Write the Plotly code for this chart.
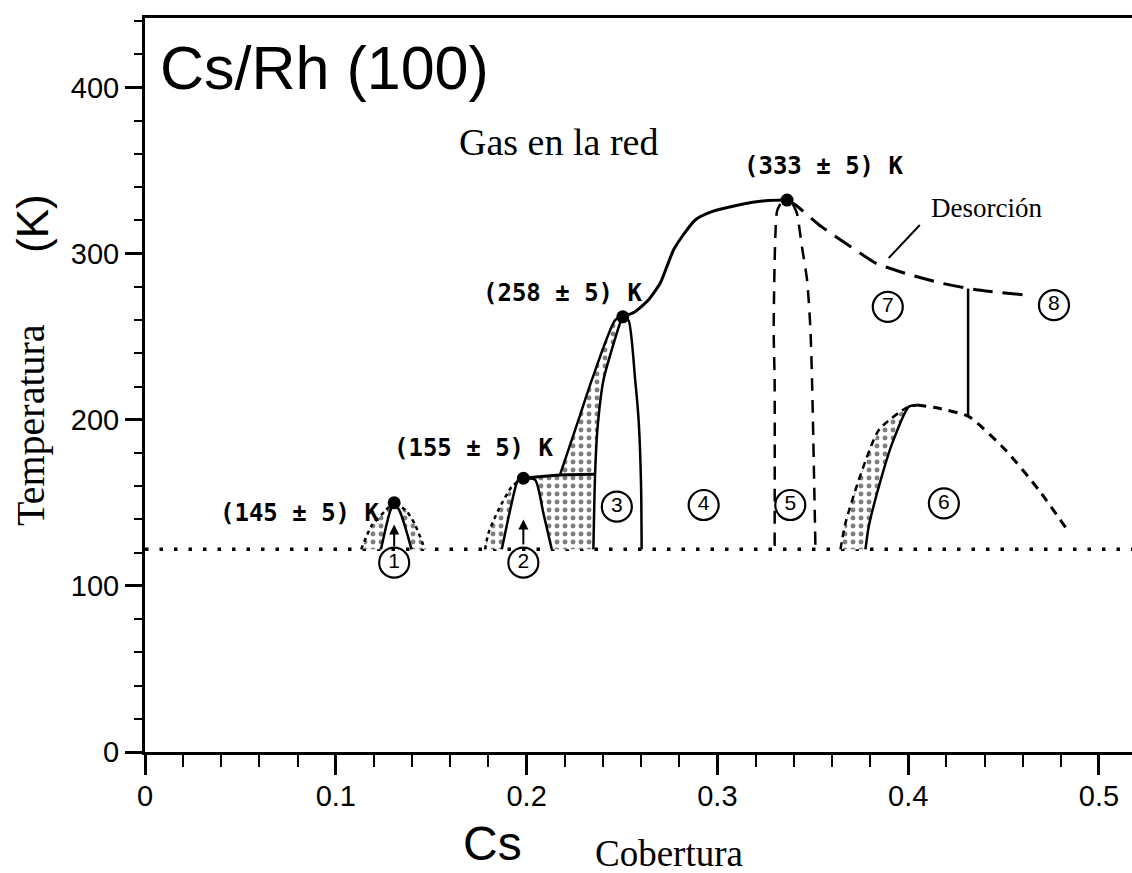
import plotly.graph_objects as go

# ---------------- axes ----------------
X_MAX = 0.5173
Y_MAX = 441.9
x_ticks = [0, 0.1, 0.2, 0.3, 0.4, 0.5]
x_tick_labels = ["0", "0.1", "0.2", "0.3", "0.4", "0.5"]
y_ticks = [0, 100, 200, 300, 400]
y_tick_labels = ["0", "100", "200", "300", "400"]

# ---------------- data ----------------
baseline_x = [0, X_MAX]
baseline_T = [122, 122]

# dome 1
d1_in_x = [0.1237, 0.1262, 0.1285, 0.1306, 0.1335, 0.1365, 0.1397]
d1_in_T = [122, 135, 145, 150, 145, 135, 122]
d1_outL_x = [0.1133, 0.1186, 0.1257, 0.1300]
d1_outL_T = [122, 136, 145, 150]
d1_outR_x = [0.1312, 0.1371, 0.1415, 0.1467]
d1_outR_T = [150, 145, 137, 122]

# dome 2
d2_left_x = [0.1870, 0.1910, 0.1955, 0.1983]
d2_left_T = [122, 143.7, 163.7, 164.8]
d2_outL_x = [0.1782, 0.1800, 0.1852, 0.1922, 0.1975]
d2_outL_T = [122, 131.7, 145.7, 159.7, 164.5]
d2_right_x = [0.1983, 0.2045, 0.2088, 0.2132]
d2_right_T = [164.8, 163.8, 143.7, 122]
d2_top_x = [0.1983, 0.2063, 0.2175, 0.2359]
d2_top_T = [164.8, 165.7, 166.8, 167.2]

# band up to the 258 K point
band_L_x = [0.2175, 0.2272, 0.2342, 0.2464, 0.2504]
band_L_T = [166.8, 199.9, 224, 260, 262]
band_R_x = [0.2504, 0.2489, 0.2403, 0.2371, 0.2359, 0.2350]
band_R_T = [262, 258, 224, 193.9, 167.2, 122]
d3_R_x = [0.2504, 0.2534, 0.2569, 0.2587, 0.2600, 0.2603]
d3_R_T = [262, 260, 224, 200, 160, 122]

# upper boundary 258 K -> 333 K
top_x = [0.2504, 0.2569, 0.2638, 0.2700, 0.2735, 0.2770, 0.2814, 0.2884,
         0.2971, 0.3111, 0.3251, 0.3365]
top_T = [262, 265.1, 272.1, 282.2, 292.2, 302.2, 310.2, 320.3,
         325.3, 329.3, 331.9, 332.3]

# desorption
des_x = [0.3365, 0.3410, 0.3545, 0.3699, 0.3832, 0.3985, 0.4176, 0.4368, 0.4617]
des_T = [332.3, 329.3, 316.3, 304.2, 294.2, 288.2, 282.2, 278.1, 275.1]

# phase 5 boundaries
p5L_x = [0.3330, 0.3312, 0.3295, 0.3300, 0.3300]
p5L_T = [330, 325.3, 254, 224, 122]
p5R_x = [0.3395, 0.3417, 0.3443, 0.3470, 0.3487, 0.3496, 0.3514]
p5R_T = [330, 324.3, 304.2, 284.2, 256, 224, 122]

# boundary 7 / 8
p78_x = [0.4314, 0.4314]
p78_T = [202, 279]

# dome 6
d6_in_x = [0.3776, 0.3793, 0.3846, 0.3916, 0.4003, 0.4047]
d6_in_T = [122, 135.6, 159.7, 185.8, 207.9, 208.9]
d6_out_x = [0.3645, 0.3671, 0.3741, 0.3846, 0.3986, 0.4047]
d6_out_T = [122, 137.7, 163.8, 193.9, 206.9, 208.9]
d6_R_x = [0.4047, 0.4161, 0.4318, 0.4510, 0.4685, 0.4834]
d6_R_T = [208.9, 206.9, 201.9, 181.8, 157.7, 133.7]

# critical points
crit_x = [0.1306, 0.1983, 0.2504, 0.3365]
crit_T = [150, 164.8, 262, 332.3]
crit_labels = ["(145 ± 5) K", "(155 ± 5) K", "(258 ± 5) K", "(333 ± 5) K"]
crit_lab_x = [0.0812, 0.1721, 0.2188, 0.3555]
crit_lab_T = [143.7, 182.8, 276.5, 352.8]

# phase numbers
ph_labels = ["1", "2", "3", "4", "5", "6", "7", "8"]
ph_x = [0.1306, 0.1983, 0.2473, 0.2928, 0.3382, 0.4187, 0.3893, 0.4764]
ph_T = [114, 114, 147.7, 148.7, 148.7, 149.7, 268, 269]

# desorption leader
lead_x = [0.4061, 0.3898]
lead_T = [317.3, 297.4]

# ---------------- figure ----------------
fig = go.Figure()
K = "black"
stip = dict(shape=".", fgcolor=K, bgcolor="white", size=8, solidity=0.3)

fig.add_trace(go.Scatter(x=baseline_x, y=baseline_T, mode="lines",
                         line=dict(color=K, width=3.5, dash="3.5px,11px")))

def poly(xa, ya, xb, yb):
    return xa + xb[::-1], ya + yb[::-1]

polys = [
    poly(d1_outL_x, d1_outL_T, d1_in_x[:4], d1_in_T[:4]),
    poly(d1_outR_x, d1_outR_T, d1_in_x[3:], d1_in_T[3:]),
    poly(d2_outL_x, d2_outL_T, d2_left_x, d2_left_T),
    (d2_right_x[::-1] + band_L_x + band_R_x,
     d2_right_T[::-1] + band_L_T + band_R_T),
    poly(d6_out_x, d6_out_T, d6_in_x, d6_in_T),
]
for px, py in polys:
    fig.add_trace(go.Scatter(x=px, y=py, mode="lines", fill="toself",
                             fillcolor="white", fillpattern=stip,
                             line=dict(width=0), hoverinfo="skip"))

def line(x, y, w=2.5, dash="solid"):
    fig.add_trace(go.Scatter(x=x, y=y, mode="lines",
                             line=dict(color=K, width=w, dash=dash, shape="spline", smoothing=0.6),
                             hoverinfo="skip"))

line(d1_in_x, d1_in_T)
line(d1_outL_x, d1_outL_T, 2.5, "4px,4px")
line(d1_outR_x, d1_outR_T, 2.5, "4px,4px")
line(d2_left_x, d2_left_T)
line(d2_outL_x, d2_outL_T, 2.5, "4px,4px")
line(d2_right_x, d2_right_T)
line(d2_top_x, d2_top_T, 3)
line(band_L_x, band_L_T)
line(band_R_x, band_R_T)
line(d3_R_x, d3_R_T)
line(top_x, top_T, 3)
line(des_x, des_T, 3, "20px,10px")
line(p5L_x, p5L_T, 2.5, "13px,9px")
line(p5R_x, p5R_T, 2.5, "13px,9px")
line(p78_x, p78_T, 2.5)
line(d6_in_x, d6_in_T)
line(d6_out_x, d6_out_T, 2.5, "7px,5px")
line(d6_R_x, d6_R_T, 3, "9px,7px")
line(lead_x, lead_T, 2)

fig.add_trace(go.Scatter(x=crit_x, y=crit_T, mode="markers",
                         marker=dict(color=K, size=13), hoverinfo="skip"))

SANS = "Liberation Sans"
fig.add_trace(go.Scatter(x=ph_x, y=ph_T, mode="markers+text", text=ph_labels,
                         textposition="middle center",
                         textfont=dict(family=SANS, size=21, color=K),
                         marker=dict(symbol="circle-open", size=30, color=K,
                                     line=dict(color=K, width=2.2)),
                         hoverinfo="skip"))

mono = dict(family="DejaVu Sans Mono", size=24, color=K, weight="bold")
serif = dict(family="Liberation Serif", color=K)
ann = []
def txt(x, y, t, font, ref="data", angle=0):
    r = ("x", "y") if ref == "data" else ("paper", "paper")
    ann.append(dict(x=x, y=y, xref=r[0], yref=r[1], text=t, showarrow=False,
                    xanchor="center", yanchor="middle", textangle=angle, font=font))

for t, x, y in zip(crit_labels, crit_lab_x, crit_lab_T):
    txt(x, y, t, mono)
txt(0.441, 327.5, "Desorción", dict(serif, size=27))
txt(0.2167, 367.5, "Gas en la red", dict(serif, size=38))
txt(0.0939, 412, "Cs/Rh (100)", dict(family=SANS, size=61, color=K))
for ax_, t0, t1 in [(ph_x[0], 123, 137), (ph_x[1], 124, 140)]:
    ann.append(dict(x=ax_, y=t1, ax=ax_, ay=t0, xref="x", yref="y", axref="x", ayref="y",
                    showarrow=True, arrowhead=2, arrowsize=1, arrowwidth=2, arrowcolor=K, text=""))
# axis titles
txt(-0.1166, 0.4455, "Temperatura", dict(serif, size=40), "paper", -90)
txt(-0.1146, 0.7207, "(K)", dict(family=SANS, size=44, color=K), "paper", -90)
txt(0.352, -0.125, "Cs", dict(family=SANS, size=48, color=K), "paper")
txt(0.531, -0.138, "Cobertura", dict(serif, size=37), "paper")

tickfont = dict(family=SANS, size=29, color=K)
fig.update_layout(
    width=1132, height=873, autosize=False,
    margin=dict(l=145, r=0, t=18, b=121),
    paper_bgcolor="white", plot_bgcolor="white",
    showlegend=False, annotations=ann,
    xaxis=dict(range=[0, X_MAX], tickvals=x_ticks, ticktext=x_tick_labels,
               showgrid=False, zeroline=False, showline=True, linecolor=K, linewidth=3,
               mirror=True, ticks="outside", ticklen=20, tickwidth=2.5, tickcolor=K,
               tickfont=tickfont, ticklabelstandoff=-4,
               minor=dict(dtick=0.02, tick0=0, ticks="outside", ticklen=12,
                          tickwidth=2, tickcolor=K)),
    yaxis=dict(range=[0, Y_MAX], tickvals=y_ticks, ticktext=y_tick_labels,
               showgrid=False, zeroline=False, showline=True, linecolor=K, linewidth=3,
               ticks="outside", ticklen=17, tickwidth=2.5, tickcolor=K,
               tickfont=tickfont,
               minor=dict(dtick=20, tick0=0, ticks="outside", ticklen=8,
                          tickwidth=2, tickcolor=K)),
)

fig.write_html("out.html", config={"displayModeBar": False},
               post_script="document.body.style.margin='0px';document.body.style.overflow='hidden';")
